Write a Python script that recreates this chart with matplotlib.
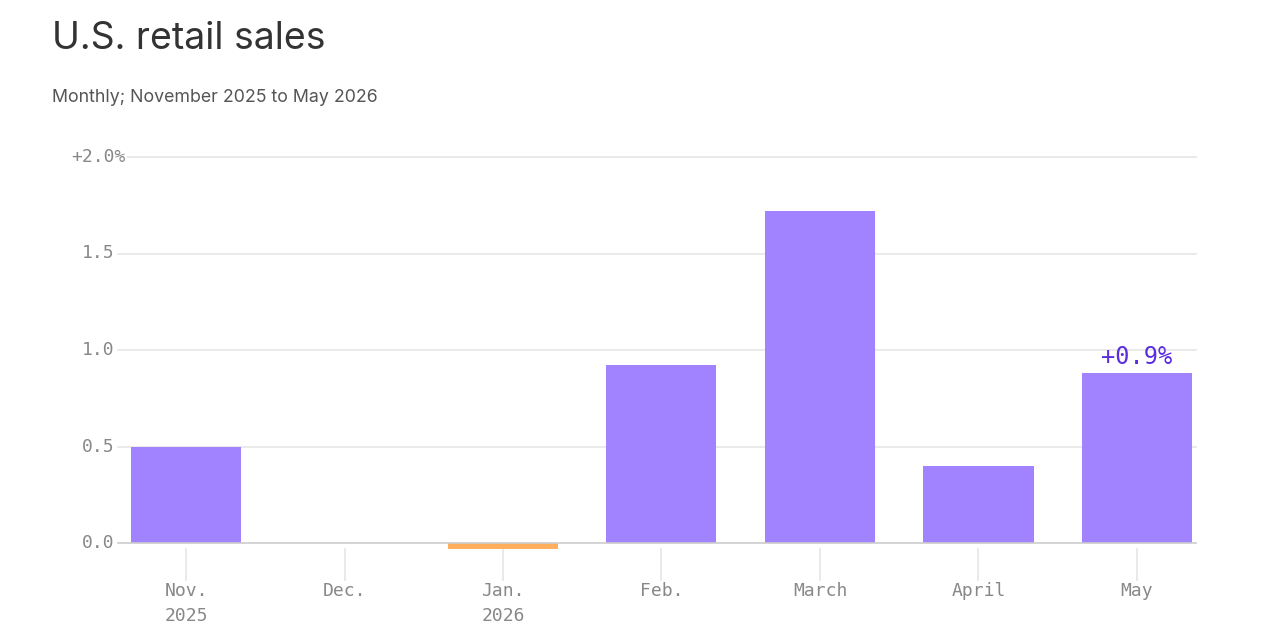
import matplotlib
matplotlib.use("Agg")
import matplotlib.pyplot as plt
from matplotlib.transforms import blended_transform_factory

# ---- data ----
months = ["Nov.", "Dec.", "Jan.", "Feb.", "March", "April", "May"]
years = ["2025", "", "2026", "", "", "", ""]
values = [0.50, 0.0, -0.03, 0.92, 1.72, 0.40, 0.88]
ytick_vals = [0.0, 0.5, 1.0, 1.5, 2.0]
ytick_labels = ["0.0", "0.5", "1.0", "1.5", "+2.0%"]
annotation_text = "+0.9%"

POS = "#a183ff"
NEG = "#ffae5c"
GRID = "#e6e6e6"
TICK = "#888888"
MONO = "DejaVu Sans Mono"
SANS = "Inter"
TICK_FS = 13

W, H = 1280, 640
fig = plt.figure(figsize=(12.8, 6.4), dpi=100)
fig.patch.set_facecolor("white")

ax_left, ax_right, ax_top, ax_bot = 118, 1196, 157, 543
ax = fig.add_axes([ax_left / W, (H - ax_bot) / H, (ax_right - ax_left) / W, (ax_bot - ax_top) / H])
ax.set_facecolor("none")

# x scale: bar centres 186 px (first) and 1137 px (last)
step = (1137 - 186) / 6
x0 = -(186 - ax_left) / step
x1 = (ax_right - 186) / step
ax.set_xlim(x0, x1)
ax.set_ylim(0, 2.0)

xs = list(range(len(values)))
colors = [POS if v >= 0 else NEG for v in values]
bar_w = 110 / step
ax.bar(xs, values, width=bar_w, color=colors, zorder=3, clip_on=False)

# gridlines
for v in ytick_vals:
    ax.axhline(v, color=("#cccccc" if v == 0 else GRID), lw=1.2, zorder=1 if v else 4, clip_on=False)

# y tick labels (numbers right-aligned; "%" of the top label hangs over the grid)
ytr = ax.get_yaxis_transform()
char_w = TICK_FS * 0.602
for v, lab in zip(ytick_vals, ytick_labels):
    hang = char_w if lab.endswith("%") else 0
    ax.annotate(lab, xy=(0, v), xycoords=ytr, xytext=(-2.5 + hang, 0), textcoords="offset points",
                ha="right", va="center", fontsize=TICK_FS, family=MONO, color=TICK, zorder=6,
                bbox=dict(facecolor="white", edgecolor="none", pad=1.0) if hang else None)

# x ticks and labels
xtr = blended_transform_factory(ax.transData, ax.transAxes)
ah = ax_bot - ax_top
for x, m, y in zip(xs, months, years):
    ax.plot([x, x], [-(549 - ax_bot) / ah, -(580 - ax_bot) / ah], transform=xtr,
            color=GRID, lw=1.2, clip_on=False)
    ax.text(x, -(591 - ax_bot) / ah, m, transform=xtr, ha="center", va="center",
            fontsize=TICK_FS, family=MONO, color=TICK)
    if y:
        ax.text(x, -(616 - ax_bot) / ah, y, transform=xtr, ha="center", va="center",
                fontsize=TICK_FS, family=MONO, color=TICK)

# annotation on last bar
ax.annotate(annotation_text, xy=(xs[-1], values[-1]), xytext=(0, 6.5), textcoords="offset points",
            ha="center", va="baseline", fontsize=17, family=MONO, color="#5a2ee0", zorder=6)

for s in ax.spines.values():
    s.set_visible(False)
ax.set_xticks([])
ax.set_yticks([])

fig.text(52 / W, 1 - 49 / H, "U.S. retail sales", fontsize=27, family=SANS, color="#333333",
         ha="left", va="baseline")
fig.text(52 / W, 1 - 102 / H, "Monthly; November 2025 to May 2026", fontsize=12.8, family=SANS,
         color="#555555", ha="left", va="baseline")

fig.savefig("out.png", dpi=100, facecolor="white")
